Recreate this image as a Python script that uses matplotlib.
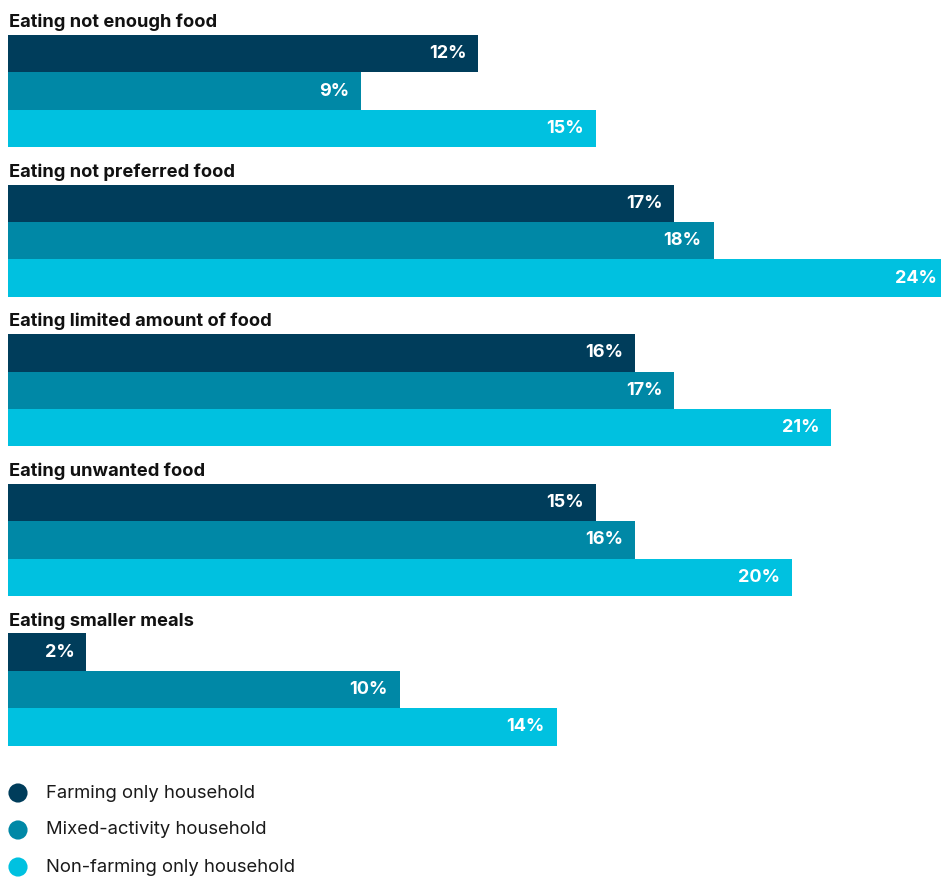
import matplotlib
matplotlib.use("Agg")
import matplotlib.pyplot as plt
from matplotlib import transforms

plt.rcParams['font.family'] = ['Inter', 'DejaVu Sans']

categories = [
    "Eating not enough food",
    "Eating not preferred food",
    "Eating limited amount of food",
    "Eating unwanted food",
    "Eating smaller meals",
]
series_names = [
    "Farming only household",
    "Mixed-activity household",
    "Non-farming only household",
]
farming_only = [12, 17, 16, 15, 2]
mixed_activity = [9, 18, 17, 16, 10]
non_farming = [15, 24, 21, 20, 14]
colors = ["#003d5b", "#0088a6", "#00c1e0"]

W, H = 941, 877
fig = plt.figure(figsize=(W / 100, H / 100), dpi=100)

row_px = 37.4
top_px = 35 - row_px
ax = fig.add_axes([8 / W, (H - (top_px + 20 * row_px)) / H, 933 / W, 20 * row_px / H])
ax.set_xlim(0, 933 / 39.2)
ax.set_ylim(20, 0)
ax.axis("off")

series = [farming_only, mixed_activity, non_farming]
pad = transforms.offset_copy(ax.transData, fig=fig, x=-12, y=0, units="dots")
for g, cat in enumerate(categories):
    base = g * 4
    ax.text(0.02, base + 0.79, cat, fontsize=13.2, fontweight="bold",
            color="#111111", va="baseline", ha="left")
    for k, vals in enumerate(series):
        y = base + 1 + k + 0.5
        ax.barh(y, vals[g], height=1.0, color=colors[k], left=0)
        ax.text(vals[g], y, f"{vals[g]}%", transform=pad, ha="right", va="center",
                fontsize=13, fontweight="bold", color="white", clip_on=False)

# legend drawn in pixel coordinates
lax = fig.add_axes([0, 0, 1, 1])
lax.set_xlim(0, W)
lax.set_ylim(H, 0)
lax.axis("off")
lax.set_zorder(-1)
for i, name in enumerate(series_names):
    y = 793 + i * 37
    lax.scatter([18], [y], s=190, color=colors[i], edgecolors="none")
    lax.text(46, y, name, fontsize=13.3, color="#1a1a1a", va="center", ha="left")

fig.savefig("out.png", dpi=100)
